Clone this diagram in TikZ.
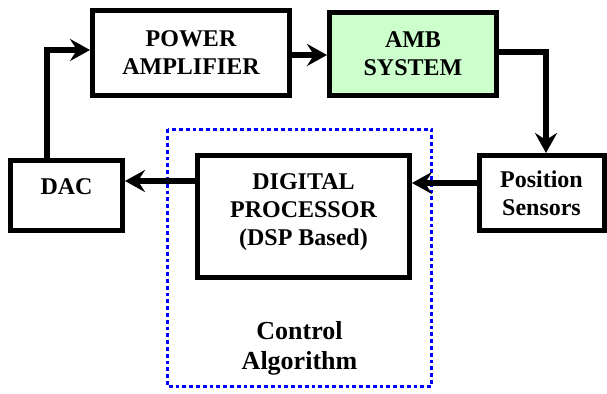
\documentclass[tikz,border=0pt]{standalone}
\usepackage{fontspec}
\setmainfont{Liberation Serif}
\usetikzlibrary{arrows.meta}
\definecolor{ambGreen}{RGB}{204,255,204}

\begin{document}
\begin{tikzpicture}[x=0.5pt,y=-0.5pt,
    block/.style={draw,rectangle,line width=2.5pt,inner sep=0pt,align=center,font=\fontsize{12}{14}\selectfont\bfseries},
    blocktext/.style={align=center,inner sep=0pt,font=\fontsize{12}{14}\selectfont\bfseries},
    flow/.style={line width=2.6pt,-{Stealth[length=10pt,width=11pt,inset=3.5pt]}}]%
  \useasboundingbox (0,0) rectangle (607,394);
  % blocks
  \node[block,minimum width=98.5pt,minimum height=42.5pt] (pa) at (191,53) {POWER\\AMPLIFIER};
  \node[block,fill=ambGreen,minimum width=83.5pt,minimum height=41.5pt] (amb) at (413,54) {AMB\\SYSTEM};
  \node[block,minimum width=62.5pt,minimum height=37.5pt] (ps) at (541.5,193) {Position\\Sensors};
  \node[block,minimum width=106pt,minimum height=61pt] (dp) at (303.5,216.5) {};
  \node[blocktext] (dptext) at (303.5,212) {DIGITAL\\PROCESSOR\\(DSP Based)};
  \node[block,minimum width=56pt,minimum height=35pt] (dac) at (66.5,195.5) {};
  \node[blocktext] (dactext) at (66.5,186.5) {DAC};
  % control algorithm
  \draw[blue,line width=1.9pt,dash pattern=on 1.9pt off 1.5pt] (167.5,129.5) rectangle (431.5,386.5);
  \node[align=center,font=\fontsize{13}{15}\selectfont\bfseries] (ca) at (299.5,348) {Control\\Algorithm};
  % connections
  \draw[flow] (pa.east |- 0,55) -- (amb.west |- 0,55);
  \draw[flow] (amb.east |- 0,52) -| (ps.north -| 546,0);
  \draw[flow] (ps.west |- 0,183) -- (dp.east |- 0,183);
  \draw[flow] (dp.west |- 0,181) -- (dac.east |- 0,181);
  \draw[flow] (dac.north -| 47,0) |- (pa.west |- 0,50);
\end{tikzpicture}
\end{document}
